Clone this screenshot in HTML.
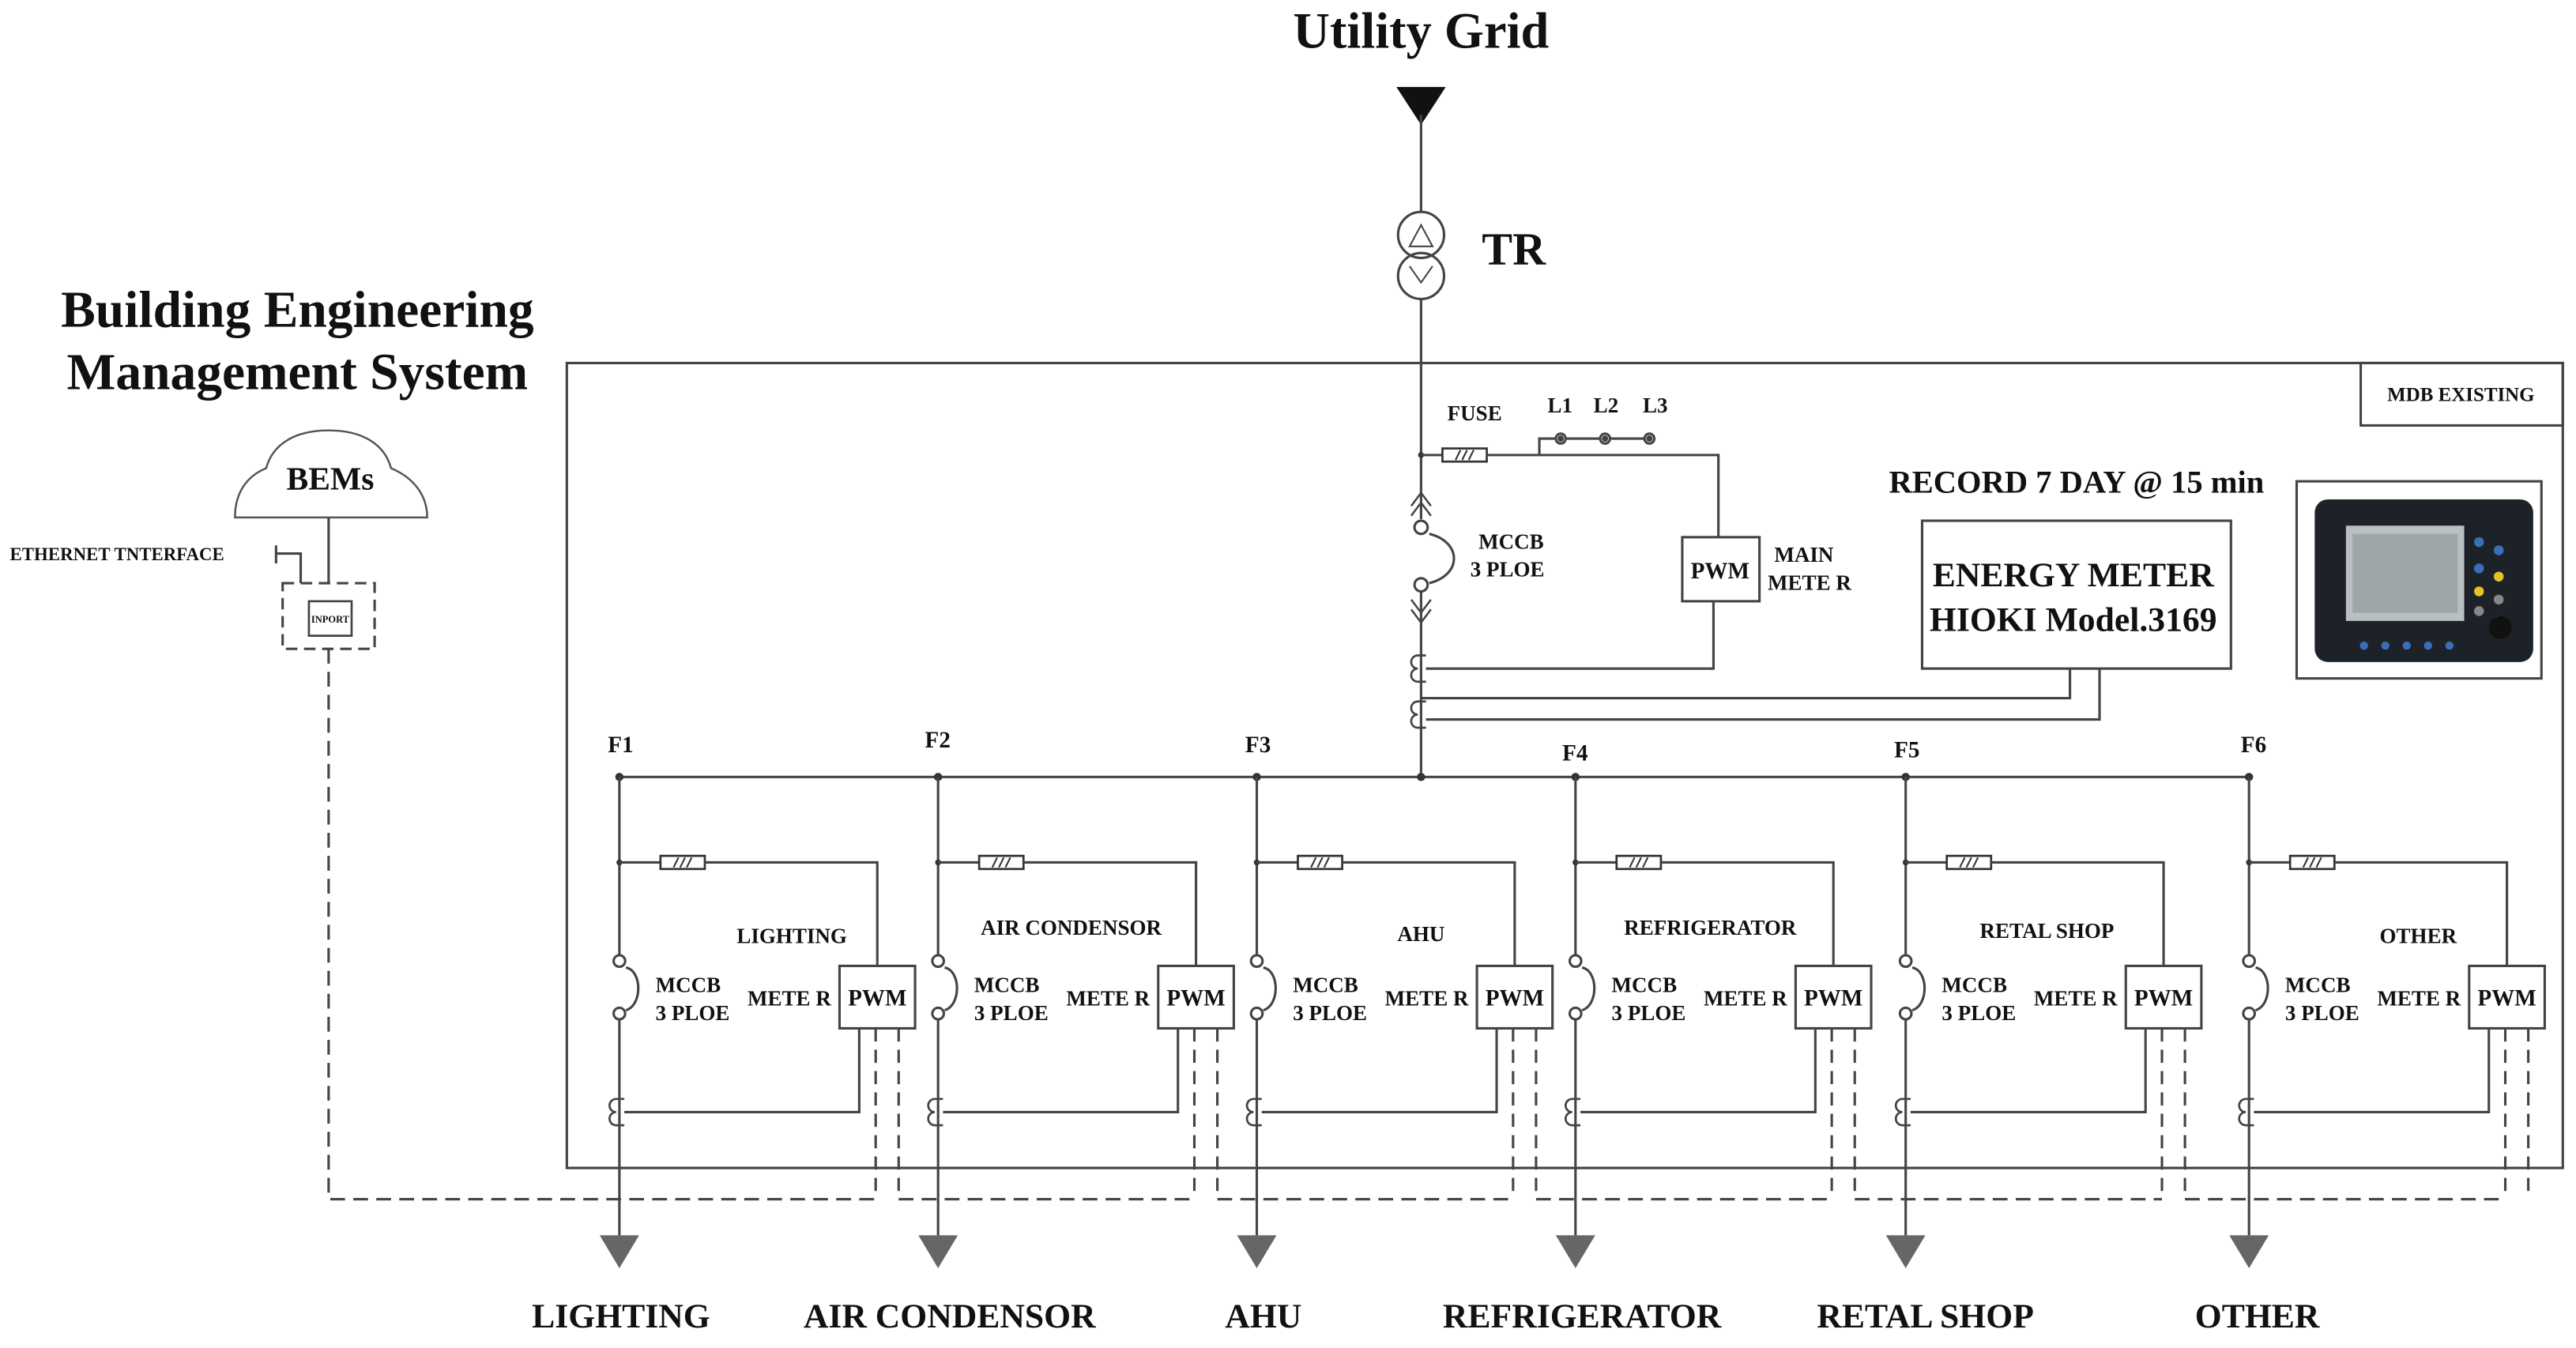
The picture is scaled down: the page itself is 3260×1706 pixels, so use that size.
<!DOCTYPE html>
<html><head><meta charset="utf-8"><style>
html,body{margin:0;padding:0;background:#fff;}
svg{display:block;}
text{font-family:"Liberation Serif",serif;font-weight:bold;fill:#111;}
</style></head><body>
<svg width="3260" height="1706" viewBox="0 0 1568 820.6" xmlns="http://www.w3.org/2000/svg">
<defs>
<g id="fuse"><rect x="0" y="-4" width="27" height="8" fill="#fff" stroke="#333" stroke-width="1.3"/><path d="M8,3 L11,-3 M12,3 L15,-3 M16,3 L19,-3" stroke="#333" stroke-width="1"/></g>
<g id="ct"><path d="M6,-8 h-5 a4,4 0 0 0 0,8 a4,4 0 0 0 0,8 h5" fill="none" stroke="#444" stroke-width="1.3"/></g>
<g id="feeder" stroke="#444" stroke-width="1.5" fill="none">
<circle cx="0" cy="473" r="2.5" fill="#333" stroke="none"/>
<line x1="0" y1="473" x2="0" y2="581"/>
<circle cx="0" cy="585" r="3.5" fill="#fff"/>
<circle cx="0" cy="617" r="3.5" fill="#fff"/>
<path d="M4,589 C14,591 14,612 4,615"/>
<line x1="0" y1="621" x2="0" y2="752"/>
<circle cx="0" cy="525" r="1.8" fill="#333" stroke="none"/>
<line x1="0" y1="525" x2="25" y2="525"/>
<use href="#fuse" x="25" y="525"/>
<polyline points="52,525 157,525 157,588"/>
<rect x="134" y="588" width="46" height="38" fill="#fff"/>
<use href="#ct" x="-3" y="677"/>
<polyline points="3,677 146,677 146,626"/>
<line x1="156" y1="626" x2="156" y2="730" stroke-dasharray="8,5"/>
<line x1="170" y1="626" x2="170" y2="730" stroke-dasharray="8,5"/>
<path d="M-12,752 L12,752 L0,772 Z" fill="#666" stroke="none"/>
</g>
<g id="ftext">
<text x="22" y="604" font-size="13">MCCB</text>
<text x="22" y="621" font-size="13">3 PLOE</text>
<text x="78" y="612" font-size="13">METE R</text>
<text x="157" y="612" font-size="14" text-anchor="middle">PWM</text>
</g>
</defs>

<text x="865" y="29" font-size="31" text-anchor="middle">Utility Grid</text>
<text x="181" y="199" font-size="31.5" text-anchor="middle">Building Engineering</text>
<text x="181" y="237" font-size="31.5" text-anchor="middle">Management System</text>
<text x="902" y="161" font-size="28">TR</text>

<path d="M850,53 L880,53 L865,76 Z" fill="#111"/>
<g stroke="#444" stroke-width="1.5" fill="none">
<line x1="865" y1="70" x2="865" y2="129"/>
<circle cx="865" cy="143" r="14"/>
<circle cx="865" cy="168" r="14"/>
<path d="M858,150 L865,137 L872,150 Z" stroke-width="1"/>
<path d="M858,162 L865,172 L872,162" stroke-width="1"/>
<line x1="865" y1="182" x2="865" y2="316"/>
<path d="M859,308 L865,300 L871,308 M859,314 L865,306 L871,314" stroke-width="1.2"/>
<circle cx="865" cy="321" r="4" fill="#fff"/>
<circle cx="865" cy="356" r="4" fill="#fff"/>
<path d="M870,325 C890,330 890,350 870,355"/>
<line x1="865" y1="360" x2="865" y2="473"/>
<path d="M859,365 L865,373 L871,365 M859,371 L865,379 L871,371" stroke-width="1.2"/>
<circle cx="865" cy="277" r="1.8" fill="#333" stroke="none"/>
<line x1="865" y1="277" x2="878" y2="277"/>
<use href="#fuse" x="878" y="277"/>
<polyline points="905,277 1046,277 1046,327"/>
<polyline points="937,277 937,267 1004,267"/>
<circle cx="950" cy="267" r="3" fill="#fff"/><circle cx="977" cy="267" r="3" fill="#fff"/><circle cx="1004" cy="267" r="3" fill="#fff"/>
<circle cx="950" cy="267" r="1.2" fill="#333"/><circle cx="977" cy="267" r="1.2" fill="#333"/><circle cx="1004" cy="267" r="1.2" fill="#333"/>
<rect x="1024" y="327" width="47" height="39" fill="#fff"/>
<use href="#ct" x="862" y="407"/>
<use href="#ct" x="862" y="435"/>
<polyline points="868,407 1043,407 1043,366"/>
<polyline points="865,425 1260,425 1260,407"/>
<polyline points="868,438 1278,438 1278,407"/>
<rect x="345" y="221" width="1215" height="490"/>
<rect x="1437" y="221" width="123" height="38"/>
<rect x="1170" y="317" width="188" height="90"/>
<rect x="1398" y="293" width="149" height="120"/>
<line x1="377" y1="473" x2="1369" y2="473"/>
<circle cx="865" cy="473" r="2.5" fill="#333" stroke="none"/>
<path d="M143,315 C143,300 150,290 162,285 C166,270 180,262 200,262 C220,262 234,270 238,285 C250,290 260,300 260,315 Z" fill="#fff" stroke="#555" stroke-width="1.2"/>
<line x1="200" y1="315" x2="200" y2="355"/>
<polyline points="168,337 183,337 183,355"/>
<line x1="168" y1="332" x2="168" y2="343"/>
<rect x="172" y="355" width="56" height="40" stroke-dasharray="7,4"/>
<rect x="188" y="366" width="26" height="21" fill="#fff" stroke-width="1.3"/>
<g stroke-dasharray="9,5">
<polyline points="200,395 200,730 533,730"/>
<line x1="547" y1="730" x2="727" y2="730"/>
<line x1="741" y1="730" x2="921" y2="730"/>
<line x1="935" y1="730" x2="1115" y2="730"/>
<line x1="1129" y1="730" x2="1316" y2="730"/>
<line x1="1330" y1="730" x2="1525" y2="730"/>
</g>
</g>
<rect x="1409" y="304" width="133" height="99" rx="8" fill="#1d2229"/>
<rect x="1428" y="320" width="72" height="58" fill="#b9bfc2"/>
<rect x="1432" y="325" width="64" height="48" fill="#9ea6aa"/>
<circle cx="1509" cy="330" r="3" fill="#3a6fb8"/><circle cx="1521" cy="335" r="3" fill="#3a6fb8"/>
<circle cx="1509" cy="346" r="3" fill="#3a6fb8"/><circle cx="1521" cy="351" r="3" fill="#e3c22a"/>
<circle cx="1509" cy="360" r="3" fill="#e3c22a"/><circle cx="1521" cy="365" r="3" fill="#888"/>
<circle cx="1509" cy="372" r="3" fill="#888"/><circle cx="1521" cy="378" r="3" fill="#3fa8c0"/>
<circle cx="1522" cy="382" r="7" fill="#111"/>
<circle cx="1439" cy="393" r="2.5" fill="#3a6fb8"/><circle cx="1452" cy="393" r="2.5" fill="#3a6fb8"/><circle cx="1465" cy="393" r="2.5" fill="#3a6fb8"/><circle cx="1478" cy="393" r="2.5" fill="#3a6fb8"/><circle cx="1491" cy="393" r="2.5" fill="#3a6fb8"/>

<use href="#feeder" x="377"/><use href="#ftext" x="377"/>
<use href="#feeder" x="571"/><use href="#ftext" x="571"/>
<use href="#feeder" x="765"/><use href="#ftext" x="765"/>
<use href="#feeder" x="959"/><use href="#ftext" x="959"/>
<use href="#feeder" x="1160"/><use href="#ftext" x="1160"/>
<use href="#feeder" x="1369"/><use href="#ftext" x="1369"/>

<text x="201" y="298" font-size="20" text-anchor="middle">BEMs</text>
<text x="6" y="341" font-size="11">ETHERNET TNTERFACE</text>
<text x="201" y="379" font-size="6" text-anchor="middle">INPORT</text>
<text x="881" y="256" font-size="13">FUSE</text>
<text x="942" y="251" font-size="13">L1</text>
<text x="970" y="251" font-size="13">L2</text>
<text x="1000" y="251" font-size="13">L3</text>
<text x="900" y="334" font-size="13">MCCB</text>
<text x="895" y="351" font-size="13">3 PLOE</text>
<text x="1047" y="352" font-size="14" text-anchor="middle">PWM</text>
<text x="1080" y="342" font-size="13">MAIN</text>
<text x="1076" y="359" font-size="13">METE R</text>
<text x="1264" y="300" font-size="19.5" text-anchor="middle">RECORD 7 DAY @ 15 min</text>
<text x="1262" y="357" font-size="21" text-anchor="middle">ENERGY METER</text>
<text x="1262" y="384" font-size="21" text-anchor="middle">HIOKI Model.3169</text>
<text x="1498" y="244" font-size="12" text-anchor="middle">MDB EXISTING</text>
<text x="370" y="458" font-size="14">F1</text>
<text x="563" y="455" font-size="14">F2</text>
<text x="758" y="458" font-size="14">F3</text>
<text x="951" y="463" font-size="14">F4</text>
<text x="1153" y="461" font-size="14">F5</text>
<text x="1364" y="458" font-size="14">F6</text>
<text x="482" y="574" font-size="13" text-anchor="middle">LIGHTING</text>
<text x="652" y="569" font-size="13" text-anchor="middle">AIR CONDENSOR</text>
<text x="865" y="573" font-size="13" text-anchor="middle">AHU</text>
<text x="1041" y="569" font-size="13" text-anchor="middle">REFRIGERATOR</text>
<text x="1246" y="571" font-size="13" text-anchor="middle">RETAL SHOP</text>
<text x="1472" y="574" font-size="13" text-anchor="middle">OTHER</text>
<text x="378" y="808" font-size="21" text-anchor="middle">LIGHTING</text>
<text x="578" y="808" font-size="21" text-anchor="middle">AIR CONDENSOR</text>
<text x="769" y="808" font-size="21" text-anchor="middle">AHU</text>
<text x="963" y="808" font-size="21" text-anchor="middle">REFRIGERATOR</text>
<text x="1172" y="808" font-size="21" text-anchor="middle">RETAL SHOP</text>
<text x="1374" y="808" font-size="21" text-anchor="middle">OTHER</text>
</svg>
</body></html>
